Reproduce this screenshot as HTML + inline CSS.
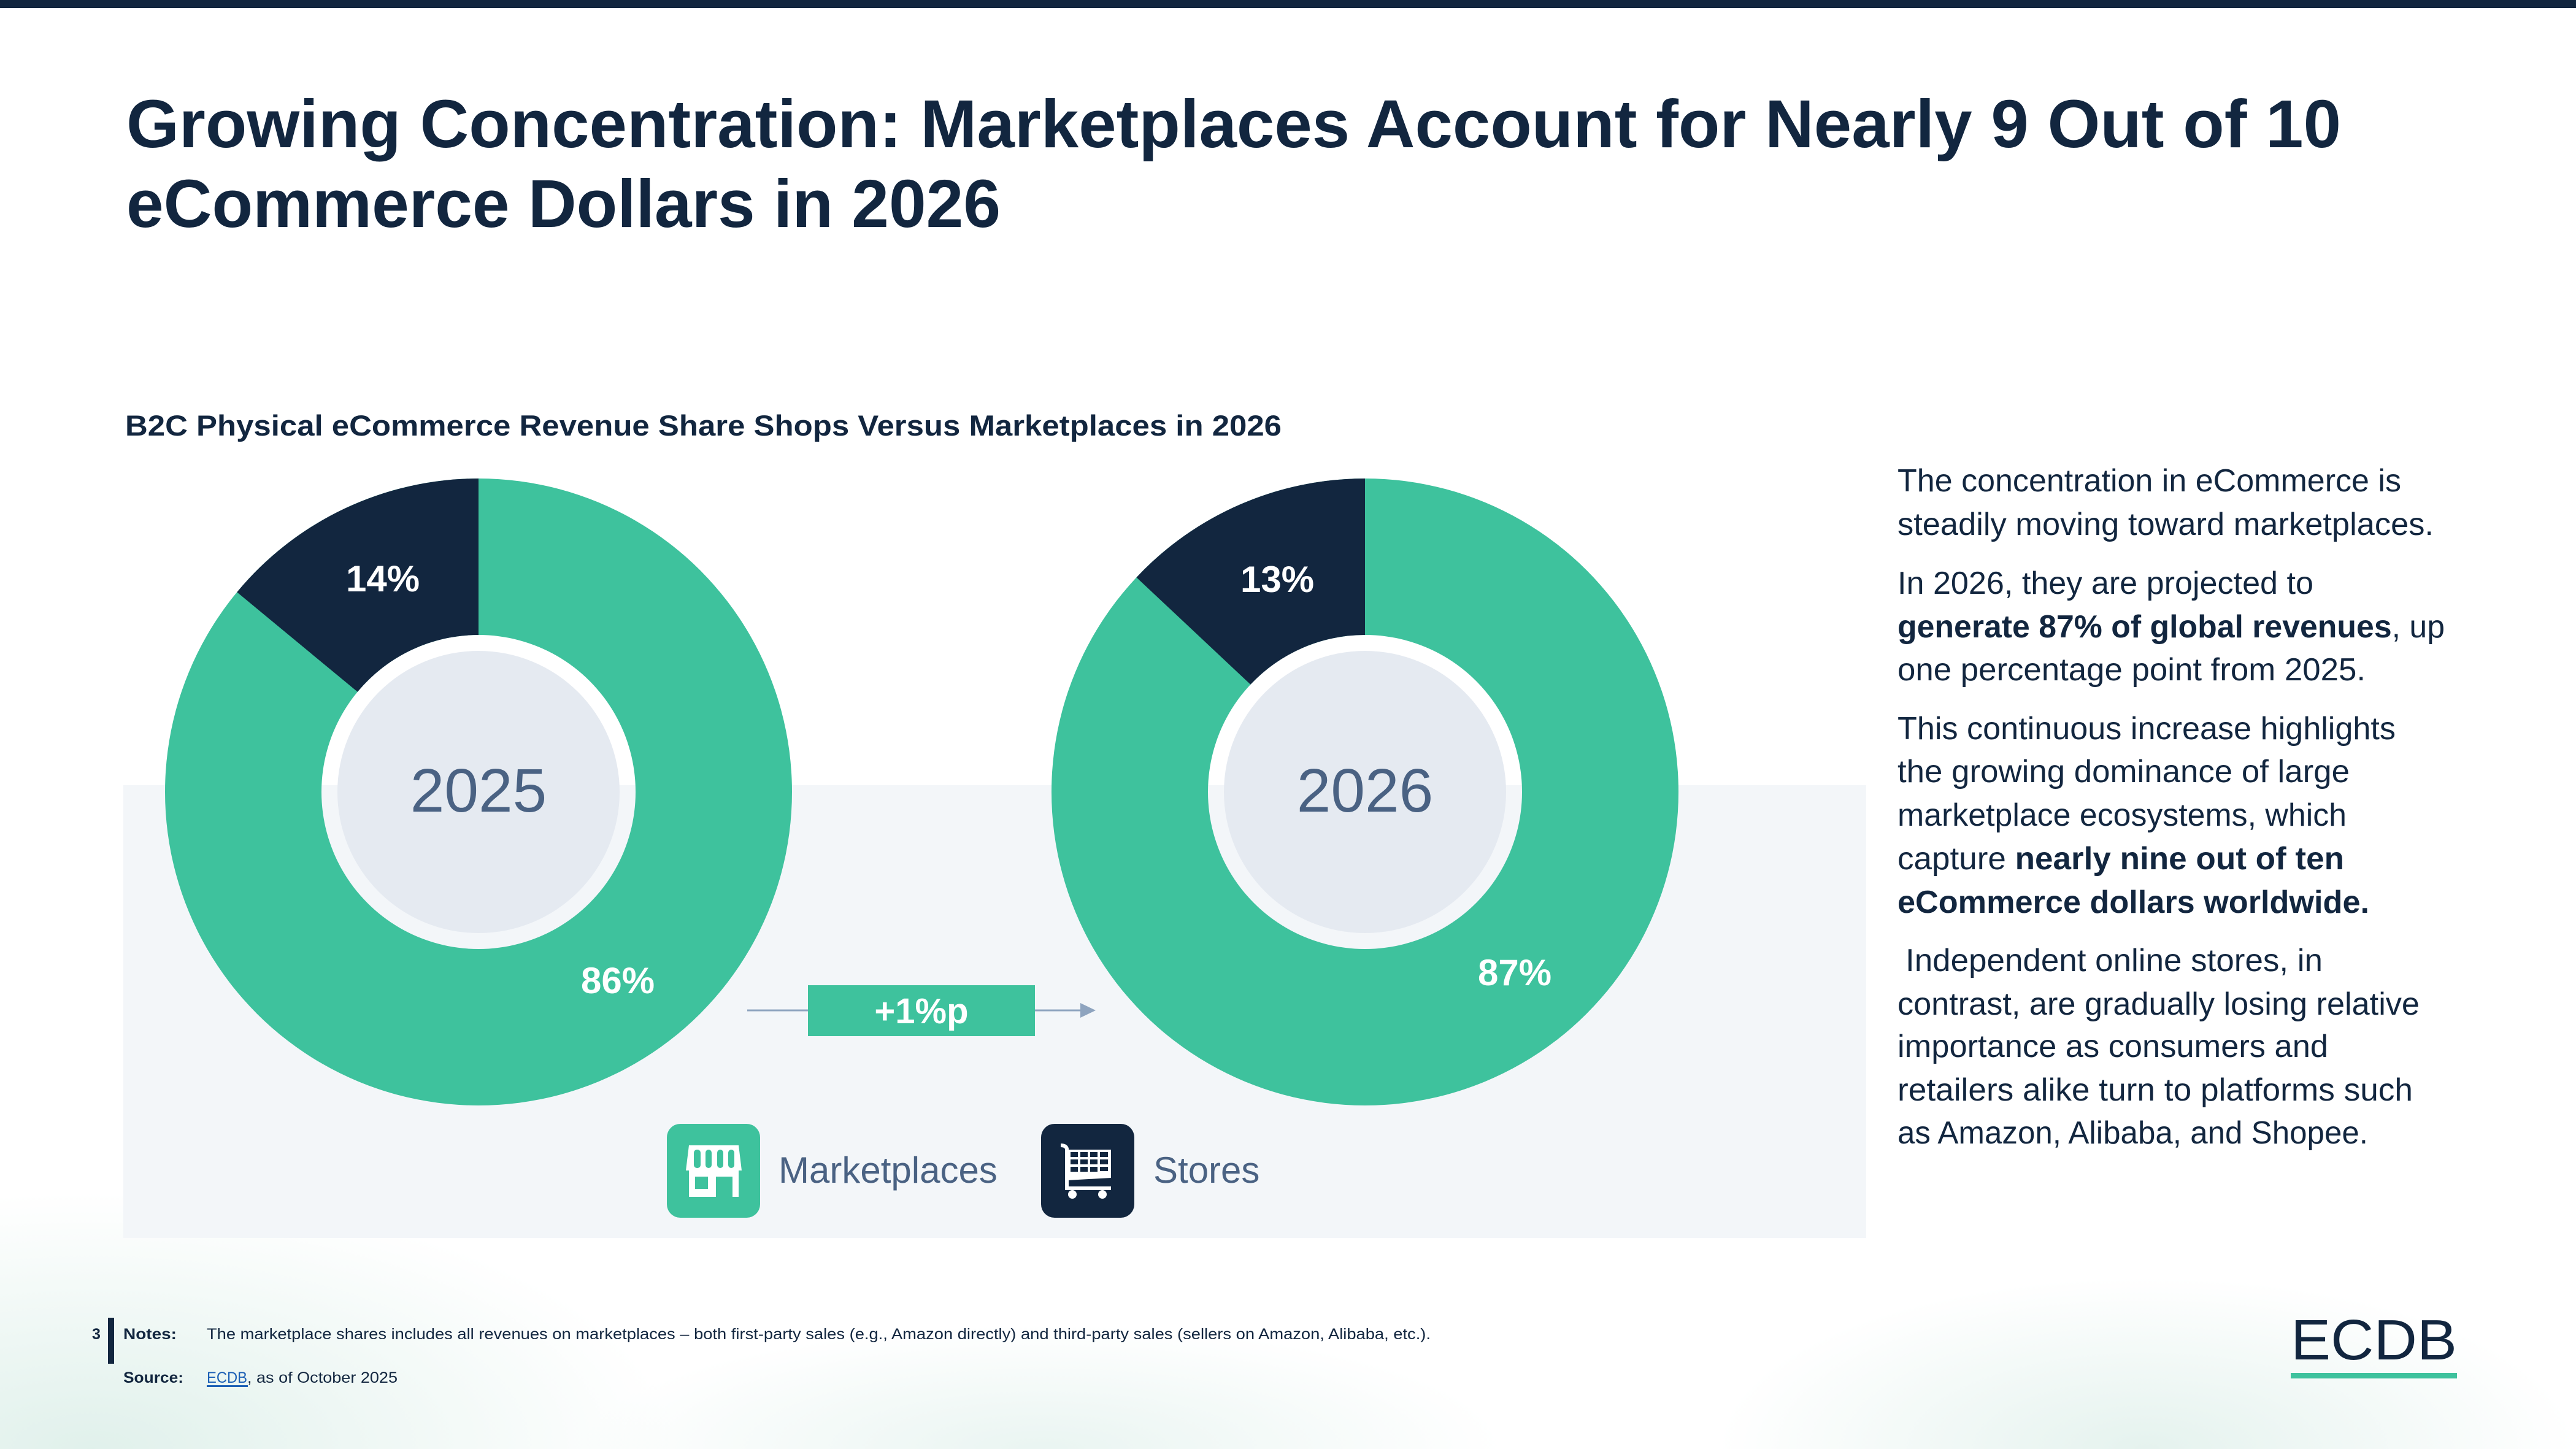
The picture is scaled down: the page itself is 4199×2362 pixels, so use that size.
<!DOCTYPE html>
<html>
<head>
<meta charset="utf-8">
<style>
  html, body { margin:0; padding:0; background:#ffffff; width:4199px; height:2362px; overflow:hidden; }
  svg { display:block; position:absolute; left:0; top:0; }
  text { font-family: "Liberation Sans", "DejaVu Sans", sans-serif; }
</style>
</head>
<body>
<svg width="4199" height="2362" viewBox="0 0 4199 2362" xmlns="http://www.w3.org/2000/svg" overflow="hidden">
  <defs>
    <radialGradient id="blobL" gradientUnits="userSpaceOnUse" cx="150" cy="2362" r="950" gradientTransform="translate(150 2362) scale(1 0.44) translate(-150 -2362)">
      <stop offset="0" stop-color="#ddefe9" stop-opacity="0.9"/>
      <stop offset="1" stop-color="#ddefe9" stop-opacity="0"/>
    </radialGradient>
    <radialGradient id="blobM" gradientUnits="userSpaceOnUse" cx="1700" cy="2362" r="750" gradientTransform="translate(1700 2362) scale(1 0.27) translate(-1700 -2362)">
      <stop offset="0" stop-color="#e4f2ee" stop-opacity="0.8"/>
      <stop offset="1" stop-color="#e4f2ee" stop-opacity="0"/>
    </radialGradient>
    <radialGradient id="blobR" gradientUnits="userSpaceOnUse" cx="3500" cy="2362" r="700" gradientTransform="translate(3500 2362) scale(1 0.4) translate(-3500 -2362)">
      <stop offset="0" stop-color="#e0f0eb" stop-opacity="0.85"/>
      <stop offset="1" stop-color="#e0f0eb" stop-opacity="0"/>
    </radialGradient>
  </defs>

  <!-- background -->
  <rect x="0" y="0" width="4199" height="2362" fill="#ffffff"/>
  <rect x="0" y="1900" width="1100" height="462" fill="url(#blobL)"/>
  <rect x="950" y="2150" width="1500" height="212" fill="url(#blobM)"/>
  <rect x="2800" y="2080" width="1399" height="282" fill="url(#blobR)"/>

  <!-- top bar -->
  <rect x="0" y="0" width="4199" height="13" fill="#12263f"/>

  <!-- title -->
  <text x="206" y="240" font-size="110" font-weight="bold" fill="#12263f" textLength="3610" lengthAdjust="spacingAndGlyphs">Growing Concentration: Marketplaces Account for Nearly 9 Out of 10</text>
  <text x="206" y="370" font-size="110" font-weight="bold" fill="#12263f" textLength="1425" lengthAdjust="spacingAndGlyphs">eCommerce Dollars in 2026</text>

  <!-- subtitle -->
  <text x="204" y="710" font-size="47" font-weight="bold" fill="#12263f" textLength="1885" lengthAdjust="spacingAndGlyphs">B2C Physical eCommerce Revenue Share Shops Versus Marketplaces in 2026</text>

  <!-- panel -->
  <rect x="201" y="1280" width="2841" height="738" fill="#f3f6f9"/>

  <!-- Donut 2025 -->
  <path d="M 780 780 A 511 511 0 1 1 779.99 780 Z M 780 1035 A 256 256 0 1 0 780.01 1035 Z" fill="#3ec29d" fill-rule="evenodd"/>
  <path d="M 780 780 A 511 511 0 0 0 386.3 965.3 L 582.8 1127.8 A 256 256 0 0 1 780 1035 Z" fill="#12263f"/>
  <circle cx="780" cy="1291" r="230" fill="#e5eaf1"/>
  <text x="780" y="1323" font-size="100" fill="#4a6283" text-anchor="middle">2025</text>
  <text x="624" y="964" font-size="60" font-weight="bold" fill="#ffffff" text-anchor="middle">14%</text>
  <text x="1007" y="1619" font-size="60" font-weight="bold" fill="#ffffff" text-anchor="middle">86%</text>

  <!-- Donut 2026 -->
  <path d="M 2225 780 A 511 511 0 1 1 2224.99 780 Z M 2225 1035 A 256 256 0 1 0 2225.01 1035 Z" fill="#3ec29d" fill-rule="evenodd"/>
  <path d="M 2225 780 A 511 511 0 0 0 1852.5 941.2 L 2038.4 1115.8 A 256 256 0 0 1 2225 1035 Z" fill="#12263f"/>
  <circle cx="2225" cy="1291" r="230" fill="#e5eaf1"/>
  <text x="2225" y="1323" font-size="100" fill="#4a6283" text-anchor="middle">2026</text>
  <text x="2082" y="965" font-size="60" font-weight="bold" fill="#ffffff" text-anchor="middle">13%</text>
  <text x="2469" y="1606" font-size="60" font-weight="bold" fill="#ffffff" text-anchor="middle">87%</text>

  <!-- +1%p arrow -->
  <line x1="1218" y1="1647" x2="1317" y2="1647" stroke="#8ea4bf" stroke-width="3"/>
  <line x1="1687" y1="1647" x2="1763" y2="1647" stroke="#8ea4bf" stroke-width="3"/>
  <polygon points="1761,1635 1786,1647 1761,1659" fill="#8ea4bf"/>
  <rect x="1317" y="1606" width="370" height="83" fill="#3ec29d"/>
  <text x="1502" y="1668" font-size="58" font-weight="bold" fill="#ffffff" text-anchor="middle">+1%p</text>

  <!-- Legend: Marketplaces icon -->
  <rect x="1087" y="1832" width="152" height="153" rx="22" ry="22" fill="#3ec29d"/>
  <g fill="#ffffff">
    <path d="M 1123 1867 L 1204 1867 L 1209 1908 L 1118 1908 Z"/>
    <rect x="1123" y="1906" width="81" height="12"/>
    <rect x="1123" y="1906" width="10" height="45"/>
    <rect x="1194" y="1906" width="10" height="45"/>
    <rect x="1123" y="1938" width="44" height="13"/>
    <rect x="1154" y="1906" width="13" height="45"/>
  </g>
  <g fill="#3ec29d">
    <rect x="1131" y="1874" width="11" height="30" rx="5"/>
    <rect x="1150" y="1874" width="10" height="30" rx="5"/>
    <rect x="1169" y="1874" width="10" height="30" rx="5"/>
    <rect x="1187" y="1874" width="10" height="30" rx="5"/>
  </g>
  <text x="1269" y="1928" font-size="60" fill="#4a6283">Marketplaces</text>

  <!-- Legend: Stores icon -->
  <rect x="1697" y="1832" width="152" height="153" rx="22" ry="22" fill="#12263f"/>
  <g fill="#ffffff">
    <path d="M 1729 1864 Q 1740 1864 1742 1872 L 1742 1936 L 1736 1936 L 1736 1873 Q 1735 1870 1729 1870 Z"/>
    <path d="M 1740 1874 L 1811 1874 L 1811 1920 L 1740 1924 Z"/>
    <rect x="1736" y="1934" width="75" height="6"/>
    <circle cx="1748" cy="1947" r="7"/>
    <circle cx="1797" cy="1947" r="7"/>
  </g>
  <g fill="#12263f">
    <rect x="1745" y="1878" width="12" height="8"/>
    <rect x="1761" y="1878" width="12" height="8"/>
    <rect x="1777" y="1878" width="12" height="8"/>
    <rect x="1793" y="1878" width="13" height="8"/>
    <rect x="1745" y="1890" width="12" height="8"/>
    <rect x="1761" y="1890" width="12" height="8"/>
    <rect x="1777" y="1890" width="12" height="8"/>
    <rect x="1793" y="1890" width="13" height="8"/>
    <rect x="1745" y="1902" width="12" height="8"/>
    <rect x="1761" y="1902" width="12" height="8"/>
    <rect x="1777" y="1902" width="12" height="8"/>
    <rect x="1793" y="1902" width="13" height="7"/>
  </g>
  <text x="1880" y="1928" font-size="60" fill="#4a6283">Stores</text>

  <!-- Right commentary -->
  <g font-size="52" fill="#12263f">
    <text x="3093" y="801" textLength="821" lengthAdjust="spacingAndGlyphs">The concentration in eCommerce is</text>
    <text x="3093" y="872" textLength="874" lengthAdjust="spacingAndGlyphs">steadily moving toward marketplaces.</text>

    <text x="3093" y="968" textLength="678" lengthAdjust="spacingAndGlyphs">In 2026, they are projected to</text>
    <text x="3093" y="1039" textLength="892" lengthAdjust="spacingAndGlyphs"><tspan font-weight="bold">generate 87% of global revenues</tspan>, up</text>
    <text x="3093" y="1109" textLength="763" lengthAdjust="spacingAndGlyphs">one percentage point from 2025.</text>

    <text x="3093" y="1205" textLength="812" lengthAdjust="spacingAndGlyphs">This continuous increase highlights</text>
    <text x="3093" y="1275" textLength="737" lengthAdjust="spacingAndGlyphs">the growing dominance of large</text>
    <text x="3093" y="1346" textLength="732" lengthAdjust="spacingAndGlyphs">marketplace ecosystems, which</text>
    <text x="3093" y="1417" textLength="728" lengthAdjust="spacingAndGlyphs">capture <tspan font-weight="bold">nearly nine out of ten</tspan></text>
    <text x="3093" y="1488" font-weight="bold" textLength="769" lengthAdjust="spacingAndGlyphs">eCommerce dollars worldwide.</text>

    <text x="3106" y="1583" textLength="680" lengthAdjust="spacingAndGlyphs">Independent online stores, in</text>
    <text x="3093" y="1654" textLength="851" lengthAdjust="spacingAndGlyphs">contrast, are gradually losing relative</text>
    <text x="3093" y="1723" textLength="702" lengthAdjust="spacingAndGlyphs">importance as consumers and</text>
    <text x="3093" y="1794" textLength="840" lengthAdjust="spacingAndGlyphs">retailers alike turn to platforms such</text>
    <text x="3093" y="1864" textLength="767" lengthAdjust="spacingAndGlyphs">as Amazon, Alibaba, and Shopee.</text>
  </g>

  <!-- Footer notes -->
  <text x="150" y="2183" font-size="25" font-weight="bold" fill="#12263f">3</text>
  <rect x="176" y="2148" width="10" height="75" fill="#12263f"/>
  <text x="201" y="2183" font-size="25" font-weight="bold" fill="#12263f" textLength="87" lengthAdjust="spacingAndGlyphs">Notes:</text>
  <text x="337" y="2183" font-size="25" fill="#12263f" textLength="1995" lengthAdjust="spacingAndGlyphs">The marketplace shares includes all revenues on marketplaces – both first-party sales (e.g., Amazon directly) and third-party sales (sellers on Amazon, Alibaba, etc.).</text>
  <text x="201" y="2254" font-size="25" font-weight="bold" fill="#12263f" textLength="98" lengthAdjust="spacingAndGlyphs">Source:</text>
  <text x="337" y="2254" font-size="25" fill="#1b5fb5" textLength="66" lengthAdjust="spacingAndGlyphs">ECDB</text>
  <rect x="337" y="2258" width="67" height="3" fill="#1b5fb5"/>
  <text x="403" y="2254" font-size="25" fill="#12263f" textLength="245" lengthAdjust="spacingAndGlyphs">, as of October 2025</text>

  <!-- Logo -->
  <text x="3734" y="2216" font-size="93" fill="#12263f" textLength="271" lengthAdjust="spacingAndGlyphs">ECDB</text>
  <rect x="3734" y="2238" width="271" height="9" fill="#3ec29d"/>
</svg>
</body>
</html>
